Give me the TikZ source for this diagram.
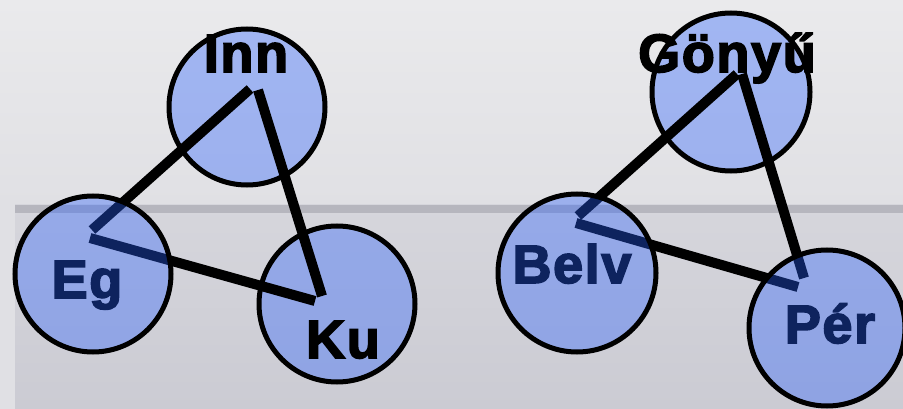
\documentclass[tikz,border=0pt]{standalone}
\usepackage{fontspec}
\setmainfont{Liberation Sans}
\newfontfamily\heavyfont[FakeBold=3,LetterSpace=3]{Liberation Sans Bold}
\usepackage[svgnames,table]{xcolor}
\definecolor{bgtop}{RGB}{234,234,236}
\definecolor{bgmid}{RGB}{224,224,228}
\definecolor{boxtop}{RGB}{214,214,220}
\definecolor{boxbot}{RGB}{203,203,211}
\definecolor{boxedge}{RGB}{182,182,190}
\definecolor{ringblue}{RGB}{40,95,255}

\begin{document}
\begin{tikzpicture}[x=1pt, y=-1pt, font=\heavyfont\fontsize{54}{54}\selectfont,
    ring/.style={circle, draw=black, line width=5pt, fill=ringblue, fill opacity=0.37, draw opacity=1, minimum size=#1, inner sep=0pt},
    link/.style={line width=10pt, line cap=butt},
    lab/.style={anchor=base, inner sep=0pt}]
        % background
        \useasboundingbox (0,0) rectangle (903,409);
        \shade[top color=bgtop, bottom color=bgmid] (0,0) rectangle (903,205);
        \shade[top color=boxtop, bottom color=boxbot] (15,205) rectangle (903,409);
        \fill[boxedge] (15,205) rectangle (903,213);
        \fill[bgmid] (0,205) rectangle (15,409);
        % circles under the lines
        \node[ring=156pt] (inn) at (247,107) {};
        \node[ring=156pt] (ku) at (337,304) {};
        \node[ring=158pt] (gony) at (731,92) {};
        % corners of the triangles
        \coordinate (innEg) at (250,89);
        \coordinate (innKu) at (258,90);
        \coordinate (egInn) at (92,230);
        \coordinate (egKu) at (90,238);
        \coordinate (kuEg) at (315,301);
        \coordinate (kuInn) at (322,296);
        \coordinate (gonyBelv) at (737,74);
        \coordinate (gonyPer) at (742,74);
        \coordinate (belvGony) at (578,216);
        \coordinate (belvPer) at (576,223);
        \coordinate (perBelv) at (798,287);
        \coordinate (perGony) at (804,278);
        \draw[link] (innEg) -- (egInn);
        \draw[link] (innKu) -- (kuInn);
        \draw[link] (egKu) -- (kuEg);
        \draw[link] (gonyBelv) -- (belvGony);
        \draw[link] (gonyPer) -- (perGony);
        \draw[link] (belvPer) -- (perBelv);
        % labels under the fill
        \node[lab] (egtxt) at (87,298) {Eg};
        \node[lab] (belvtxt) at (572,283) {Belv};
        \node[lab] (pertxt) at (830,343) {Pér};
        % circles over the lines
        \node[ring=156pt] (eg) at (93,274) {};
        \node[ring=158pt] (belv) at (577,273) {};
        \node[ring=156pt] (per) at (827,328) {};
        % labels on top
        \node[lab] (inntxt) at (246,72) {Inn};
        \node[lab] (kutxt) at (343,358) {Ku};
        \node[lab] (gonytxt) at (727,72) {Gönyű};
    \end{tikzpicture}
\end{document}
